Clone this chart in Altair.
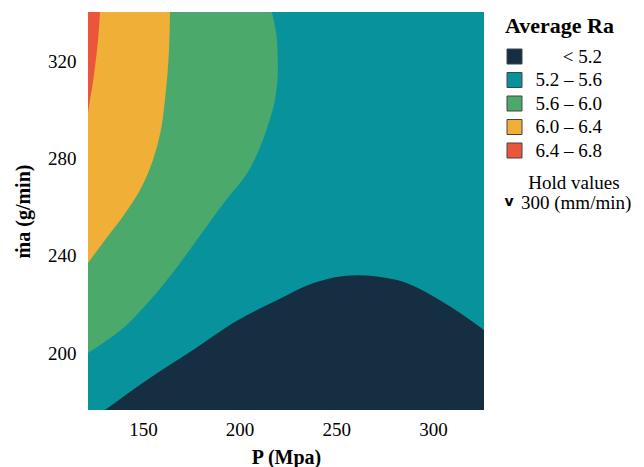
import altair as alt
import pandas as pd

# Plot ranges (axis extents)
P_MIN, P_MAX = 121.6, 326.4
M_MIN, M_MAX = 176.5, 340.6

bands = ["< 5.2", "5.2 – 5.6", "5.6 – 6.0", "6.0 – 6.4", "6.4 – 6.8"]
band_colors = ["#152e42", "#08939c", "#4aa96b", "#f0af37", "#eb563b"]

# Contour Ra = 5.2 (dark region below it)
c52_p = [130.4, 152.1, 175.9, 196.6, 219.3, 237.9, 260.7, 281.4, 303.6, 326.4]
c52_m = [176.5, 188.9, 201.2, 212.4, 221.8, 228.8, 232.1, 230.1, 221.8, 209.5]

# Contour Ra = 5.6 (green region to its left)
c56_m = [340.6, 329.1, 317.9, 304.3, 294.0, 283.7, 273.4, 263.1, 249.5, 235.4, 221.8, 208.2, 200.0]
c56_p = [216.7, 219.3, 219.8, 218.3, 214.7, 210.0, 203.3, 193.0, 180.5, 167.6, 153.7, 136.6, 121.6]

# Contour Ra = 6.0 (orange region to its left)
c60_m = [340.6, 324.9, 304.3, 291.9, 279.6, 267.2, 256.9, 246.6, 237.1]
c60_p = [164.0, 163.5, 161.4, 159.3, 155.2, 148.5, 140.2, 130.4, 121.6]

# Contour Ra = 6.4 (red region to its left)
c64_m = [340.6, 329.1, 317.9, 309.3, 304.3, 299.0]
c64_p = [127.8, 126.8, 125.2, 123.7, 122.6, 121.6]

x_ticks = [150, 200, 250, 300]
y_ticks = [200, 240, 280, 320]

SERIF = "Liberation Serif"

xs = alt.Scale(domain=[P_MIN, P_MAX], nice=False, zero=False)
ys = alt.Scale(domain=[M_MIN, M_MAX], nice=False, zero=False)
cs = alt.Scale(domain=bands, range=band_colors)

legend = alt.Legend(
    title="Average Ra", orient="none", legendX=417, legendY=4,
    symbolType="square", symbolSize=225, symbolStrokeColor="#444444",
    symbolStrokeWidth=1, symbolOpacity=1,
    labelAlign="right", labelOffset=78, labelBaseline="middle",
    labelFont=SERIF, labelFontSize=19, labelColor="black", labelLimit=200,
    titleFont=SERIF, titleFontSize=22, titleFontWeight="bold", titleColor="black",
    titlePadding=9, rowPadding=3.5, padding=0,
)

x_enc = alt.X("p:Q", scale=xs, title="P (Mpa)",
              axis=alt.Axis(values=x_ticks, labelPadding=10, titlePadding=8))
y_enc = alt.Y("m:Q", scale=ys, title="ṁa (g/min)",
              axis=alt.Axis(values=y_ticks, labelPadding=12, titlePadding=14))

# teal background band
bg = pd.DataFrame({"p": [P_MIN], "p2": [P_MAX], "m": [M_MIN], "m2": [M_MAX], "band": [bands[1]]})
bg_layer = alt.Chart(bg).mark_rect().encode(
    x=x_enc, x2="p2:Q", y=y_enc, y2="m2:Q",
    color=alt.Color("band:N", scale=cs, legend=legend),
)

dark = pd.DataFrame({"p": c52_p, "m": c52_m, "base": [M_MIN] * len(c52_p), "band": bands[0]})
dark_layer = alt.Chart(dark).mark_area(interpolate="monotone", clip=True).encode(
    x=x_enc, y=y_enc, y2="base:Q",
    color=alt.Color("band:N", scale=cs, legend=legend),
)

def left_region(ps, ms, band):
    df = pd.DataFrame({"p": ps, "m": ms, "base": [P_MIN] * len(ps), "band": band})
    return alt.Chart(df).mark_area(orient="horizontal", interpolate="monotone", clip=True).encode(
        y=y_enc, x=x_enc, x2="base:Q",
        color=alt.Color("band:N", scale=cs, legend=legend),
    )

green_layer = left_region(c56_p, c56_m, bands[2])
orange_layer = left_region(c60_p, c60_m, bands[3])
red_layer = left_region(c64_p, c64_m, bands[4])

notes = alt.Chart(pd.DataFrame({"t": ["Hold values"]})).mark_text(
    font=SERIF, fontSize=19, color="black", align="center", baseline="middle"
).encode(text="t:N", x=alt.value(486), y=alt.value(171))

hold_mark = alt.Chart(pd.DataFrame({"t": ["v"]})).mark_text(
    font="DejaVu Sans", fontSize=14, fontWeight="bold", color="black", align="center", baseline="middle"
).encode(text="t:N", x=alt.value(421), y=alt.value(190))

hold_val = alt.Chart(pd.DataFrame({"t": ["300 (mm/min)"]})).mark_text(
    font=SERIF, fontSize=19, color="black", align="left", baseline="middle"
).encode(text="t:N", x=alt.value(433), y=alt.value(191))

chart = alt.layer(
    bg_layer, dark_layer, green_layer, orange_layer, red_layer, notes, hold_mark, hold_val
).properties(
    width=396, height=398,
    autosize=alt.AutoSizeParams(type="none"),
    padding={"left": 88, "top": 12, "right": 160, "bottom": 57},
    background="white",
).configure_axis(
    grid=False, domain=False, ticks=False, tickSize=0,
    labelFont=SERIF, labelFontSize=19, labelColor="black",
    titleFont=SERIF, titleFontSize=20, titleFontWeight="bold", titleColor="black",
).configure_view(stroke=None)

chart.save("out.html", embed_options={"renderer": "svg", "actions": False})
